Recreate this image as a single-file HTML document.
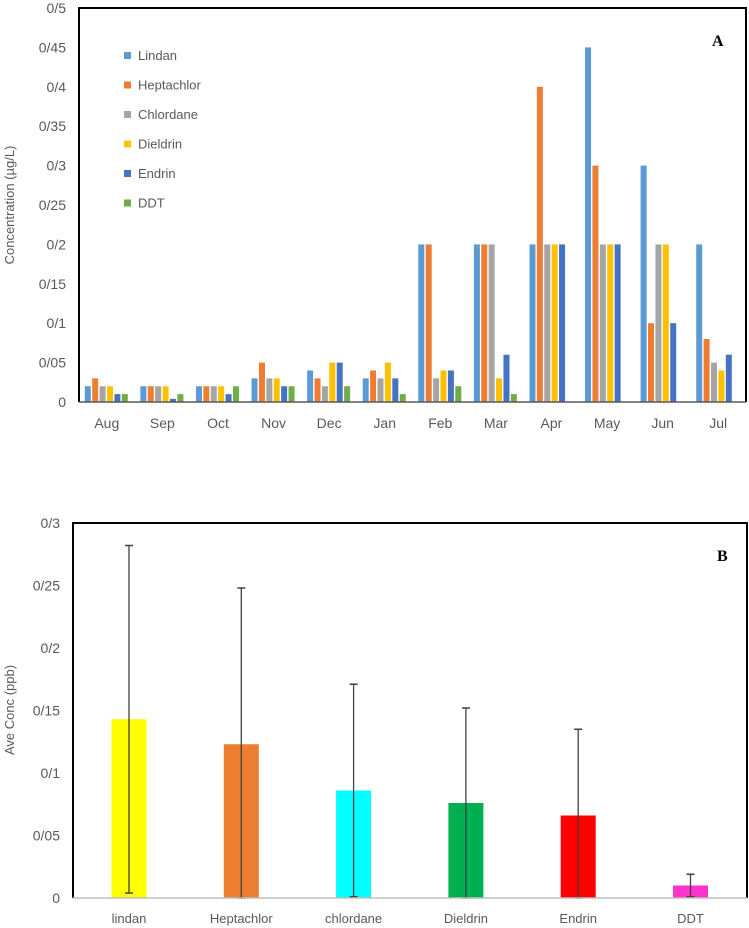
<!DOCTYPE html>
<html><head><meta charset="utf-8"><style>
body{margin:0;background:#fff;font-family:"Liberation Sans",sans-serif}
svg{display:block}
</style></head><body>
<svg id="c" width="749" height="928"></svg>
<script>
const monthsA=["Aug","Sep","Oct","Nov","Dec","Jan","Feb","Mar","Apr","May","Jun","Jul"];
const seriesNamesA=["Lindan","Heptachlor","Chlordane","Dieldrin","Endrin","DDT"];
const lindanA=[0.02,0.02,0.02,0.03,0.04,0.03,0.2,0.2,0.2,0.45,0.3,0.2];
const heptachlorA=[0.03,0.02,0.02,0.05,0.03,0.04,0.2,0.2,0.4,0.3,0.1,0.08];
const chlordaneA=[0.02,0.02,0.02,0.03,0.02,0.03,0.03,0.2,0.2,0.2,0.2,0.05];
const dieldrinA=[0.02,0.02,0.02,0.03,0.05,0.05,0.04,0.03,0.2,0.2,0.2,0.04];
const endrinA=[0.01,0.004,0.01,0.02,0.05,0.03,0.04,0.06,0.2,0.2,0.1,0.06];
const ddtA=[0.01,0.01,0.02,0.02,0.02,0.01,0.02,0.01,0,0,0,0];
const ticksA=["0","0/05","0/1","0/15","0/2","0/25","0/3","0/35","0/4","0/45","0/5"];
const catsB=["lindan","Heptachlor","chlordane","Dieldrin","Endrin","DDT"];
const valsB=[0.143,0.123,0.086,0.076,0.066,0.01];
const errB=[0.139,0.125,0.085,0.076,0.069,0.009];
const ticksB=["0","0/05","0/1","0/15","0/2","0/25","0/3"];
const colorsA=["#5b9bd5","#ed7d31","#a5a5a5","#ffc000","#4472c4","#70ad47"];
const colorsB=["#ffff00","#ed7d31","#00ffff","#00b050","#ff0000","#ff33cc"];

const svg=document.getElementById('c');
const NS="http://www.w3.org/2000/svg";
function mk(t,a,p){const e=document.createElementNS(NS,t);for(const k in a)e.setAttribute(k,a[k]);(p||svg).appendChild(e);return e;}

// Chart A
const aL=79,aR=746,aT=8,aB=402,aMax=0.5;
const yA=v=>aB-v/aMax*(aB-aT);
const bandA=(aR-aL)/monthsA.length;
const gA=mk('g',{});


let fr=mk('polyline',{points:`${aL},${aB} ${aL},${aT} ${aR},${aT} ${aR},${aB}`,fill:'none',stroke:'#000','stroke-width':2},gA);

ticksA.forEach((t,i)=>{const e=mk('text',{x:66,y:yA(i*0.05)+5,'text-anchor':'end','font-size':14,fill:'#595959'},gA);e.textContent=t;
});
const seriesA=[lindanA,heptachlorA,chlordaneA,dieldrinA,endrinA,ddtA];
seriesA.forEach((s,si)=>s.forEach((v,mi)=>{
  const x=aL+bandA*mi+bandA/2-22+si*7.4;
  const r=mk('rect',{x:x,y:yA(v),width:6,height:aB-yA(v),fill:colorsA[si]},gA);
  
  
}));
let ax=mk('line',{x1:aL,x2:aR,y1:aB,y2:aB,stroke:'#595959','stroke-width':1.5},gA);

monthsA.forEach((m,i)=>{const e=mk('text',{x:aL+bandA*i+bandA/2,y:428,'text-anchor':'middle','font-size':14,fill:'#595959'},gA);e.textContent=m;
});
seriesNamesA.forEach((n,i)=>{const y=56+i*29.5;
  const r=mk('rect',{x:124,y:y-4,width:7,height:7,fill:colorsA[i]},gA);
  
  const e=mk('text',{x:138,y:y+4,'font-size':13,fill:'#595959'},gA);e.textContent=n;
  });
let ta=mk('text',{x:14,y:205,transform:'rotate(-90 14 205)','text-anchor':'middle','font-size':13,fill:'#595959'},gA);ta.textContent="Concentration (µg/L)";

let la=mk('text',{x:712,y:46,'font-size':16,'font-weight':'bold','font-family':'Liberation Serif, serif',fill:'#000'},gA);la.textContent="A";


// Chart B
const bL=73,bR=747,bT=523,bB=898,bMax=0.3;
const yB=v=>bB-v/bMax*(bB-bT);
const bandB=112.3;
const gB=mk('g',{});


let fb=mk('polyline',{points:`${bL},${bB} ${bL},${bT} ${bR},${bT} ${bR},${bB}`,fill:'none',stroke:'#000','stroke-width':2},gB);

ticksB.forEach((t,i)=>{const e=mk('text',{x:60,y:yB(i*0.05)+5,'text-anchor':'end','font-size':14,fill:'#595959'},gB);e.textContent=t;
});
valsB.forEach((v,i)=>{const cx=129+bandB*i;
  const r=mk('rect',{x:cx-17.5,y:yB(v),width:35,height:bB-yB(v),fill:colorsB[i]},gB);
  
  const hi=yB(v+errB[i]),lo=yB(Math.max(0,v-errB[i]));
  const l=mk('line',{x1:cx,x2:cx,y1:hi,y2:lo,stroke:'#404040','stroke-width':1.3},gB);
  
  [hi,lo].forEach(yy=>{const c=mk('line',{x1:cx-4,x2:cx+4,y1:yy,y2:yy,stroke:'#404040','stroke-width':1.5},gB);
  });
});
let bx=mk('line',{x1:bL,x2:bR,y1:bB,y2:bB,stroke:'#bfbfbf','stroke-width':1.5},gB);

catsB.forEach((c,i)=>{const e=mk('text',{x:129+bandB*i,y:923,'text-anchor':'middle','font-size':13,fill:'#595959'},gB);e.textContent=c;
});
let tb=mk('text',{x:14,y:710,transform:'rotate(-90 14 710)','text-anchor':'middle','font-size':13,fill:'#595959'},gB);tb.textContent="Ave Conc (ppb)";

let lb=mk('text',{x:717,y:561,'font-size':16,'font-weight':'bold','font-family':'Liberation Serif, serif',fill:'#000'},gB);lb.textContent="B";

</script>
</body></html>
